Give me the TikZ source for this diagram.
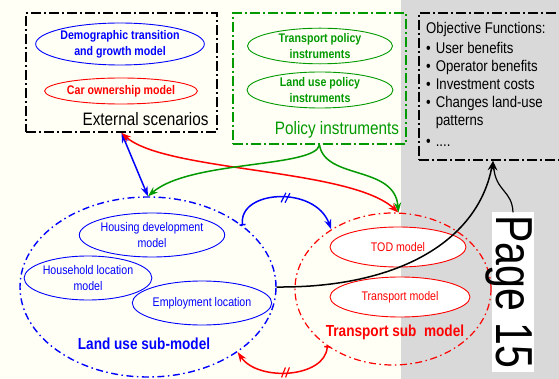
\documentclass[tikz,border=0pt]{standalone}
\usepackage{fontspec}
\setmainfont{Liberation Sans}[FakeStretch=0.85]
\newfontfamily\pagefont{Liberation Sans}[FakeStretch=0.79]
\usetikzlibrary{calc,shapes.geometric,arrows.meta,decorations.markings}
\definecolor{cream}{RGB}{255,255,245}
\definecolor{panelgrey}{RGB}{217,217,217}
\definecolor{polgreen}{RGB}{0,153,0}

\begin{document}
\begin{tikzpicture}[x=1pt,y=-1pt,
	>={Stealth[length=10pt,width=7pt]},
	frame/.style={draw,dash pattern=on 10pt off 3pt on 2pt off 3pt,line width=1.8pt,inner sep=0pt},
	subframe/.style={ellipse,draw,dash pattern=on 7pt off 3.5pt on 1.5pt off 3.5pt,line width=1.4pt,inner sep=0pt},
	model/.style={ellipse,draw,line width=0.9pt,inner sep=0pt,align=center,font=\fontsize{12.5}{16}\selectfont},
	boldmodel/.style={model,font=\bfseries\fontsize{12.5}{16}\selectfont},
	title/.style={font=\fontsize{18}{20}\selectfont},
	subtitle/.style={font=\bfseries\fontsize{16}{18}\selectfont},
	link/.style={line width=1.5pt},
	cut/.style={postaction={decorate},decoration={markings,
		mark=at position 0.5 with {\draw[solid,-,line width=1.2pt] (-4pt,-5pt) -- (0pt,5pt) (0pt,-5pt) -- (4pt,5pt);}}}
	]
	% background
	\fill[cream] (0,0) rectangle (401,379);
	\fill[panelgrey] (401,0) rectangle (559,379);
	\useasboundingbox (0,0) rectangle (559,379);
	
	% external scenarios
	\node[frame,minimum width=191pt,minimum height=119pt] (ext) at (121.5,72.5) {};
	\node[boldmodel,blue,minimum width=166pt,minimum height=42pt] (demog) at (120,44) {Demographic transition\\and growth model};
	\node[boldmodel,red,minimum width=144pt,minimum height=26pt] (carown) at (121,91) {Car ownership model};
	\node[title,anchor=east] (extlabel) at (212,119) {External scenarios};
	
	% policy instruments
	\node[frame,polgreen,minimum width=173pt,minimum height=131pt] (policy) at (319.5,78.5) {};
	\node[boldmodel,polgreen,minimum width=145pt,minimum height=34pt] (tpolicy) at (320,46) {Transport policy\\instruments};
	\node[boldmodel,polgreen,minimum width=146pt,minimum height=36pt] (lpolicy) at (320,90) {Land use policy\\instruments};
	\node[title,polgreen] (policylabel) at (337,130) {Policy instruments};
	
	% objective functions
	\node[frame,minimum width=148pt,minimum height=147pt] (obj) at (493,86.5) {};
	\node[anchor=north west,inner sep=0pt,font=\fontsize{15.5}{18}\selectfont] (objtext) at (426,21) {%
		\begin{tabular}{@{}l@{\hspace{5pt}}l@{}}
			\multicolumn{2}{@{}l}{Objective Functions:}\\[2pt]
			\textbullet & User benefits\\
			\textbullet & Operator benefits\\
			\textbullet & Investment costs\\
			\textbullet & Changes land-use\\
			& patterns\\[3pt]
			\textbullet & ....
	\end{tabular}};
	
	% land use sub-model
	\node[subframe,blue,minimum width=256pt,minimum height=180pt] (landuse) at (148,287) {};
	\node[model,blue,minimum width=126pt,minimum height=44pt] (housing) at (152,235) {Housing development\\model};
	\node[model,blue,minimum width=122pt,minimum height=44pt] (household) at (88,278) {Household location\\model};
	\node[model,blue,minimum width=132pt,minimum height=44pt] (employ) at (202,303) {Employment location};
	\node[subtitle,blue] (landlabel) at (144,344) {Land use sub-model};
	
	% transport sub-model
	\node[subframe,red,line width=1.2pt,minimum width=196pt,minimum height=152pt] (trans) at (393,289) {};
	\node[model,red,fill=white,minimum width=136pt,minimum height=40pt] (tod) at (398,247) {TOD model};
	\node[model,red,fill=white,minimum width=140pt,minimum height=40pt] (tmodel) at (400,297) {Transport model};
	\node[subtitle,red] (translabel) at (395,332) {Transport sub\ \ model};
	
	% page tag
	\node[fill=white,rotate=-90,inner sep=0pt,minimum width=159pt,text height=38pt,text depth=4pt,font=\pagefont\fontsize{52}{52}\selectfont] (page) at (513,292) {Page 15};
	
	% links
	\draw[link,blue,<->] (ext.south) -- (landuse.north);
	\draw[link,red,<->] (ext.south) .. controls (165,172) and (350,168) .. (trans.86);
	\draw[link,polgreen,->] (policy.south) .. controls (315,168) and (190,160) .. (landuse.north);
	\draw[link,polgreen,->] (policy.south) .. controls (325,180) and (395,165) .. (trans.86);
	\draw[link,blue,{Bar[width=6pt]}->,cut] (landuse.33) .. controls (238,190) and (315,185) .. (trans.136);
	\draw[link,red,{Bar[width=6pt]}->,cut] (trans.221) .. controls (325,378) and (258,382) .. (landuse.-36);
	\draw[link,->] (landuse.east) .. controls (400,288) and (478,240) .. (obj.south);
	\draw[line width=1.2pt,->] (page.west) .. controls (512,190) and (496,192) .. (obj.south);
\end{tikzpicture}
\end{document}
